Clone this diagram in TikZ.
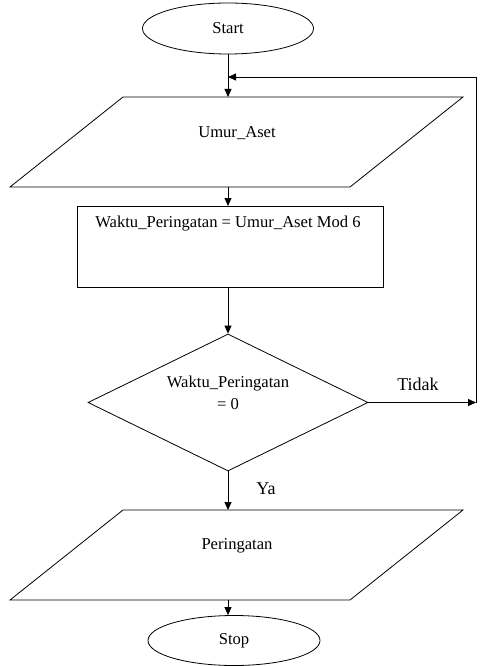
\documentclass[tikz,border=0pt]{standalone}
\usepackage{fontspec}
\setmainfont{Liberation Serif}
\usetikzlibrary{shapes.geometric,arrows.meta}
\begin{document}
\begin{tikzpicture}[x=1pt,y=-1pt,
  line width=0.8pt,
  arr/.style={-{Triangle[length=8pt,width=7pt]}},
  txt/.style={font=\fontsize{16.6}{22}\selectfont, inner sep=0pt, align=center},
  lbl/.style={font=\fontsize{18}{22}\selectfont, inner sep=0pt},
  term/.style={draw, ellipse, inner sep=0pt, font=\fontsize{16.6}{20}\selectfont},
  shapeline/.style={draw, line width=0.8pt}]
\useasboundingbox (0,0) rectangle (481,666);
% Start
\node[term, minimum width=171pt, minimum height=51pt] (start) at (228,28.5) {Start};
\coordinate (j) at (228,77);
% Input parallelogram
\draw[shapeline] (123,97) -- (463,97) -- (350,187) -- (10,187) -- cycle;
\coordinate (in1t) at (228,97);
\coordinate (in1b) at (228,187);
\node[txt] (in1) at (237,133) {Umur\_Aset};
% Process
\node[draw, minimum width=306pt, minimum height=81pt, inner sep=0pt] (proc) at (230,246.5) {};
\node[txt] (proctxt) at (228,224) {Waktu\_Peringatan = Umur\_Aset Mod 6};
\coordinate (proct) at (228,206);
\coordinate (procb) at (228,287);
% Decision
\node[draw, diamond, minimum width=280pt, minimum height=137pt, inner sep=0pt] (dec) at (228,402.5) {};
\node[txt] (dectxt) at (228,393) {Waktu\_Peringatan\\= 0};
\coordinate (rc) at (476,402.5);
\coordinate (rt) at (476,77);
% Output parallelogram
\draw[shapeline] (123,510) -- (463,510) -- (350,600) -- (10,600) -- cycle;
\coordinate (outt) at (228,510);
\coordinate (outb) at (228,600);
\node[txt] (out) at (237,546) {Peringatan};
% Stop
\node[term, minimum width=172pt, minimum height=50pt] (stop) at (234,640.5) {Stop};
% Connectors
\draw (start.south) -- (j);
\draw[arr] (j) -- (in1t);
\draw[arr] (in1b) -- (proct);
\draw[arr] (procb) -- (dec.north);
\draw[arr] (dec.east) -- (rc);
\draw[arr] (rc) -- (rt) -- (j);
\draw[arr] (dec.south) -- (outt);
\draw[arr] (outb) -- (outb |- stop.north);
% Labels
\node[lbl] (tidak) at (418,384) {Tidak};
\node[lbl] (ya) at (266,489) {Ya};
\end{tikzpicture}
\end{document}
